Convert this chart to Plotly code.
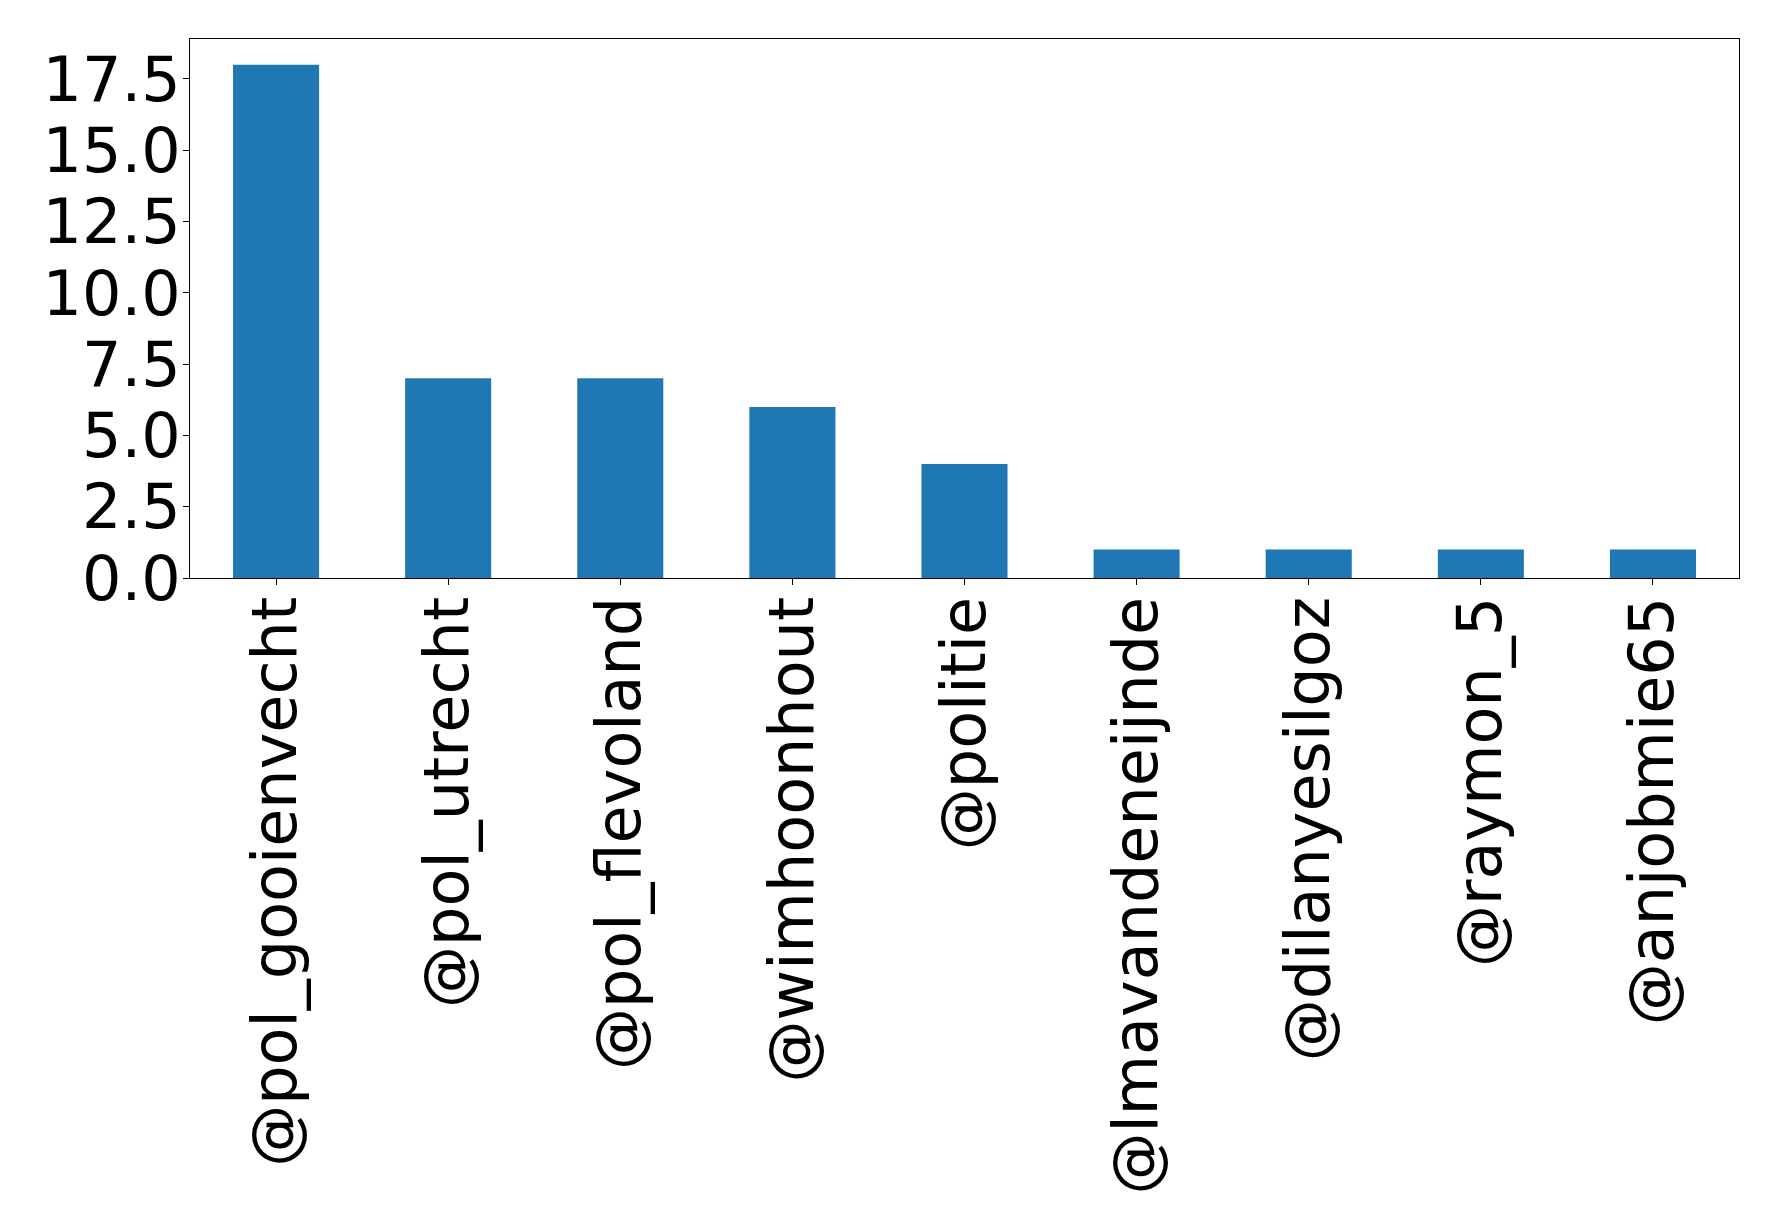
import plotly.graph_objects as go

accounts = ["@pol_gooienvecht", "@pol_utrecht", "@pol_flevoland", "@wimhoonhout",
            "@politie", "@lmavandeneijnde", "@dilanyesilgoz", "@raymon_5", "@anjobmie65"]
counts = [18, 7, 7, 6, 4, 1, 1, 1, 1]
y_ticks = [0, 2.5, 5, 7.5, 10, 12.5, 15, 17.5]
y_tick_labels = ["0.0", "2.5", "5.0", "7.5", "10.0", "12.5", "15.0", "17.5"]

fig = go.Figure(go.Bar(
    x=list(range(len(accounts))), y=counts, width=0.5,
    marker=dict(color="#1f77b4", line=dict(width=0)),
))

fig.update_layout(
    width=1778, height=1230,
    margin=dict(l=190, r=39, t=39, b=652),
    paper_bgcolor="white", plot_bgcolor="white",
    font=dict(family="DejaVu Sans", size=62, color="black"),
    showlegend=False,
)
fig.update_xaxes(
    range=[-0.5, 8.5], tickmode="array",
    tickvals=list(range(len(accounts))), ticktext=accounts,
    tickangle=-90, ticks="outside", ticklen=6, tickwidth=1, tickcolor="black",
    showline=True, linecolor="black", linewidth=1, mirror=True,
    showgrid=False, zeroline=False, ticklabelstandoff=-13,
)
fig.update_yaxes(
    range=[0, 18.9], tickmode="array", tickvals=y_ticks, ticktext=y_tick_labels,
    ticks="outside", ticklen=6, tickwidth=1, tickcolor="black",
    showline=True, linecolor="black", linewidth=1, mirror=True,
    showgrid=False, zeroline=False, ticklabelstandoff=-10,
)

fig.write_html("out.html")
